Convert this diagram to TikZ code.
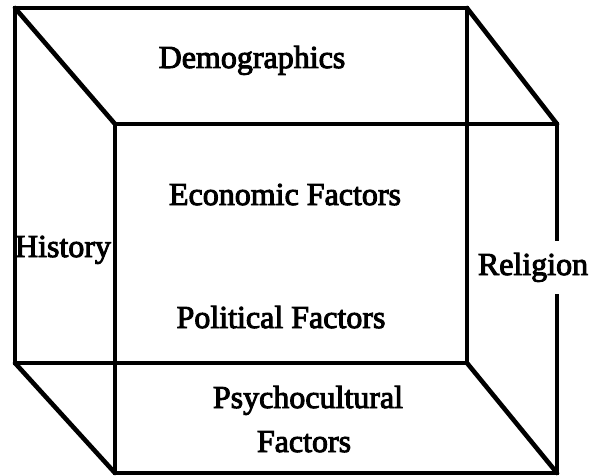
\documentclass[tikz,border=0pt]{standalone}
\usepackage{fontspec}
\setmainfont{Liberation Serif}
\newfontfamily\lblfont[FakeBold=3]{Liberation Serif}
\begin{document}
\begin{tikzpicture}[x=1pt,y=-1pt,
  edge/.style={line width=3.8pt, line join=miter},
  diag/.style={line width=4.6pt, line cap=round},
  lbl/.style={font=\lblfont\fontsize{32}{44}\selectfont, inner sep=0pt, anchor=base, align=center}]
\useasboundingbox (0,0) rectangle (592,476);
% corners
\coordinate (btl) at (15,8);
\coordinate (btr) at (467,8);
\coordinate (bbr) at (467,363);
\coordinate (bbl) at (15,363);
\coordinate (ftl) at (115,124);
\coordinate (ftr) at (557,124);
\coordinate (fbr) at (557,473);
\coordinate (fbl) at (115,473);
% back face
\draw[edge] (btl) -- (btr) -- (bbr) -- (bbl) -- cycle;
% front face
\draw[edge] (ftl) -- (ftr) -- (fbr) -- (fbl) -- cycle;
% connecting edges
\draw[diag] (btl) -- (ftl);
\draw[diag] (btr) -- (ftr);
\draw[diag] (bbl) -- (fbl);
\draw[diag] (bbr) -- (fbr);
% labels
\node[lbl] (demo) at (252,68) {Demographics};
\node[lbl] (econ) at (285,205) {Economic Factors};
\node[lbl] (poli) at (281,328) {Political Factors};
\node[lbl] (psy1) at (308,408) {Psychocultural};
\node[lbl] (psy2) at (304,452) {Factors};
\node[lbl] (hist) at (63,257) {History};
\node[lbl, fill=white, inner xsep=2pt, inner ysep=12pt] (reli) at (533,275) {Religion};
\end{tikzpicture}
\end{document}
